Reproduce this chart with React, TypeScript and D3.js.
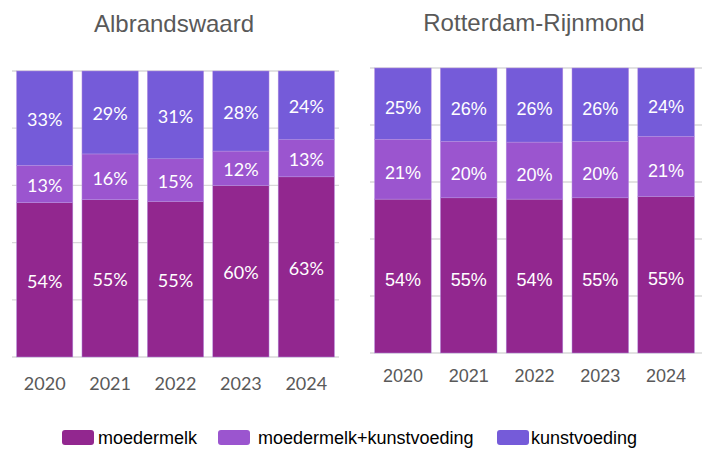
import React from 'react';
import * as d3 from 'd3';

const years = ['2020', '2021', '2022', '2023', '2024'];
const seriesKeys = ['moedermelk', 'moedermelk+kunstvoeding', 'kunstvoeding'];
const colors = ['#92278f', '#9b55cf', '#755bd9'];

const albrandswaardMoedermelk = [54, 55, 55, 60, 63];
const albrandswaardMix = [13, 16, 15, 12, 13];
const albrandswaardKunst = [33, 29, 31, 28, 24];

const rijnmondMoedermelk = [54, 55, 54, 55, 55];
const rijnmondMix = [21, 20, 20, 20, 21];
const rijnmondKunst = [25, 26, 26, 26, 24];

const W = 702;
const H = 449;

type Panel = {
  title: string;
  titleX: number;
  titleY: number;
  values: number[][];
  x0: number;
  x1: number;
  gridX1: number;
  yTop: number;
  yBottom: number;
  yearY: number;
  labelShift: number;
  font: string;
};

const panels: Panel[] = [
  {
    title: 'Albrandswaard',
    titleX: 174,
    titleY: 32,
    values: [albrandswaardMoedermelk, albrandswaardMix, albrandswaardKunst],
    x0: 12,
    x1: 339,
    gridX1: 339,
    yTop: 71,
    yBottom: 357,
    yearY: 390,
    labelShift: 1.5,
    font: 'Lato, "Open Sans", sans-serif',
  },
  {
    title: 'Rotterdam-Rijnmond',
    titleX: 534,
    titleY: 31,
    values: [rijnmondMoedermelk, rijnmondMix, rijnmondKunst],
    x0: 370,
    x1: 699,
    gridX1: 702,
    yTop: 68,
    yBottom: 353,
    yearY: 382,
    labelShift: 4,
    font: '"Liberation Sans", Arial, sans-serif',
  },
];

const ChartPanel = ({ p }: { p: Panel }) => {
  const rows = years.map((yr, i) => {
    const r: any = { year: yr };
    seriesKeys.forEach((k, j) => (r[k] = p.values[j][i]));
    return r;
  });
  const stacked = d3.stack<any>().keys(seriesKeys).offset(d3.stackOffsetExpand)(rows);
  const x = d3.scaleBand().domain(years).range([p.x0, p.x1]).paddingInner(0.14).paddingOuter(0.07);
  const y = d3.scaleLinear().domain([0, 1]).range([p.yBottom, p.yTop]);
  const ticks = d3.range(0, 1.0001, 0.2);

  return (
    <g>
      <text x={p.titleX} y={p.titleY} textAnchor="middle" fill="#595959"
        style={{ fontFamily: '"Liberation Sans", Arial, sans-serif', fontSize: 24 }}>
        {p.title}
      </text>
      {ticks.map((t, i) => (
        <line key={i} x1={p.x0} x2={p.gridX1} y1={y(t)} y2={y(t)} stroke="#d9d9d9" strokeWidth={1.3} />
      ))}
      {stacked.map((s, si) => (
        <g key={s.key}>
          {s.map((d, i) => (
            <rect key={i} x={x(years[i])} width={x.bandwidth()} y={y(d[1])}
              height={y(d[0]) - y(d[1])} fill={colors[si]} stroke="#b58ee0" strokeWidth={0.5} />
          ))}
        </g>
      ))}
      {stacked.map((s, si) => (
        <g key={s.key + '-lbl'}>
          {s.map((d, i) => (
            <text key={i} x={x(years[i])! + x.bandwidth() / 2}
              y={(y(d[0]) + y(d[1])) / 2 + p.labelShift}
              dy="0.35em" textAnchor="middle" fill="#ffffff"
              style={{ fontFamily: p.font, fontSize: 18 }}>
              {p.values[si][i]}%
            </text>
          ))}
        </g>
      ))}
      {years.map(yr => (
        <text key={yr} x={x(yr)! + x.bandwidth() / 2} y={p.yearY} textAnchor="middle" fill="#595959"
          style={{ fontFamily: p.font, fontSize: 18 }}>
          {yr}
        </text>
      ))}
    </g>
  );
};

const legendItems = [
  { label: seriesKeys[0], x: 62, tx: 98 },
  { label: seriesKeys[1], x: 218, tx: 258 },
  { label: seriesKeys[2], x: 497, tx: 531 },
];

export default function App() {
  return (
    <svg width={W} height={H} style={{ position: 'absolute', left: 0, top: 0, background: '#fff' }}>
      {panels.map(p => <ChartPanel key={p.title} p={p} />)}
      {legendItems.map((it, i) => (
        <g key={it.label}>
          <rect x={it.x} y={430} width={32} height={15} rx={3} fill={colors[i]} />
          <text x={it.tx} y={444} fill="#000"
            style={{ fontFamily: '"Liberation Sans", Arial, sans-serif', fontSize: 18 }}>
            {it.label}
          </text>
        </g>
      ))}
    </svg>
  );
}
